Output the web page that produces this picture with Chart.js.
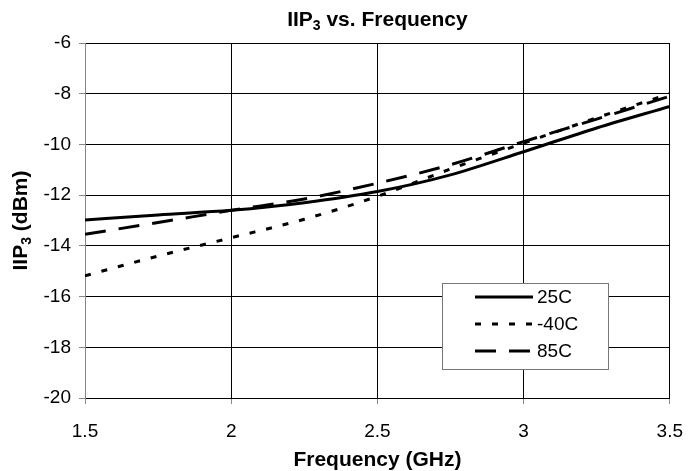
<!DOCTYPE html>
<html>
<head>
<meta charset="utf-8">
<script src="https://cdn.jsdelivr.net/npm/chart.js@4.4.1/dist/chart.umd.min.js"></script>
<style>
  html, body { margin: 0; padding: 0; background: #fff; }
</style>
</head>
<body>
<canvas id="iipChart" width="699" height="471"></canvas>
<script>
const freqs = [1.5, 1.75, 2.0, 2.25, 2.5, 2.75, 3.0, 3.25, 3.5];
const iip25 = [-12.98, -12.78, -12.6, -12.3, -11.86, -11.2, -10.29, -9.35, -8.5];
const iipM40 = [-15.18, -14.4, -13.68, -12.95, -12.05, -10.97, -9.95, -8.95, -8.0];
const iip85 = [-13.54, -13.08, -12.6, -12.15, -11.53, -10.8, -9.89, -9.0, -8.1];
const xTicks = [1.5, 2, 2.5, 3, 3.5];
const yTicks = [-20, -18, -16, -14, -12, -10, -8, -6];

const FONT = "'Liberation Sans', Arial, sans-serif";
const toPoints = (vals) => vals.map((v, i) => ({ x: freqs[i], y: v }));

// draw text with a subscript part, centred on x
const drawParts = (ctx, parts, x, y) => {
    let w = 0;
    parts.forEach(p => {
        ctx.font = `bold ${p.size}px ${FONT}`;
        w += ctx.measureText(p.t).width;
    });
    let cx = x - w / 2;
    ctx.textAlign = 'left';
    ctx.textBaseline = 'alphabetic';
    parts.forEach(p => {
        ctx.font = `bold ${p.size}px ${FONT}`;
        ctx.fillText(p.t, cx, y + (p.dy || 0));
        cx += ctx.measureText(p.t).width;
    });
};

const decorPlugin = {
    id: 'decor',
    afterDraw(chart) {
        const ctx = chart.ctx;
        const area = chart.chartArea;
        const mid = (area.left + area.right) / 2;
        ctx.save();
        ctx.fillStyle = '#000';
        drawParts(ctx, [{ t: 'IIP', size: 21 }, { t: '3', size: 14, dy: 4 }, { t: ' vs. Frequency', size: 21 }], mid, 26);
        drawParts(ctx, [{ t: 'Frequency (GHz)', size: 21 }], mid, 466);
        ctx.translate(27, (area.top + area.bottom) / 2);
        ctx.rotate(-Math.PI / 2);
        drawParts(ctx, [{ t: 'IIP', size: 21 }, { t: '3', size: 14, dy: 4 }, { t: ' (dBm)', size: 21 }], 0, 0);
        ctx.restore();

        // legend box
        const bx = 442, by = 283, bw = 166, bh = 86;
        ctx.save();
        ctx.fillStyle = '#fff';
        ctx.fillRect(bx, by, bw, bh);
        ctx.strokeStyle = '#777';
        ctx.lineWidth = 1;
        ctx.strokeRect(bx + 0.5, by + 0.5, bw, bh);
        chart.data.datasets.forEach((ds, i) => {
            const ly = by + 14 + i * 27;
            ctx.beginPath();
            ctx.strokeStyle = ds.borderColor;
            ctx.lineWidth = ds.borderWidth;
            ctx.setLineDash(ds.borderDash || []);
            ctx.moveTo(475, ly);
            ctx.lineTo(533, ly);
            ctx.stroke();
            ctx.setLineDash([]);
            ctx.fillStyle = '#000';
            ctx.font = `19px ${FONT}`;
            ctx.textAlign = 'left';
            ctx.textBaseline = 'middle';
            ctx.fillText(ds.label, 537, ly + 1);
        });
        ctx.restore();
    }
};

const lineDs = (label, vals, dash) => ({
    label,
    data: toPoints(vals),
    borderColor: '#000',
    borderWidth: 3,
    borderDash: dash,
    pointRadius: 0,
    cubicInterpolationMode: 'monotone',
    fill: false,
});

new Chart('iipChart', {
    type: 'line',
    data: {
        datasets: [
            lineDs('25C', iip25, []),
            lineDs('-40C', iipM40, [6, 11]),
            lineDs('85C', iip85, [21, 13]),
        ],
    },
    options: {
        responsive: false,
        animation: false,
        layout: { padding: { left: 0, right: 17, top: 43, bottom: 0 } },
        plugins: { legend: { display: false }, title: { display: false }, tooltip: { enabled: false } },
        scales: {
            x: {
                type: 'linear',
                min: 1.5,
                max: 3.5,
                afterBuildTicks: (scale) => { scale.ticks = xTicks.map(v => ({ value: v })); },
                afterFit: (scale) => { scale.height = 73; },
                grid: {
                    color: (c) => (c.index === 0 ? '#888' : '#000'),
                    lineWidth: 1,
                    tickLength: 6,
                    tickColor: '#888',
                },
                border: { color: '#000', width: 1 },
                ticks: {
                    color: '#000',
                    font: { family: FONT, size: 19 },
                    padding: 16,
                    maxRotation: 0,
                    callback: (v) => String(v),
                },
            },
            y: {
                min: -20,
                max: -6,
                afterBuildTicks: (scale) => { scale.ticks = yTicks.map(v => ({ value: v })); },
                afterFit: (scale) => { scale.width = 85; },
                grid: {
                    color: '#000',
                    lineWidth: 1,
                    tickLength: 6,
                    tickColor: '#888',
                },
                border: { color: '#888', width: 1 },
                ticks: { color: '#000', font: { family: FONT, size: 19 }, padding: 8 },
            },
        },
    },
    plugins: [decorPlugin],
});
</script>
</body>
</html>
